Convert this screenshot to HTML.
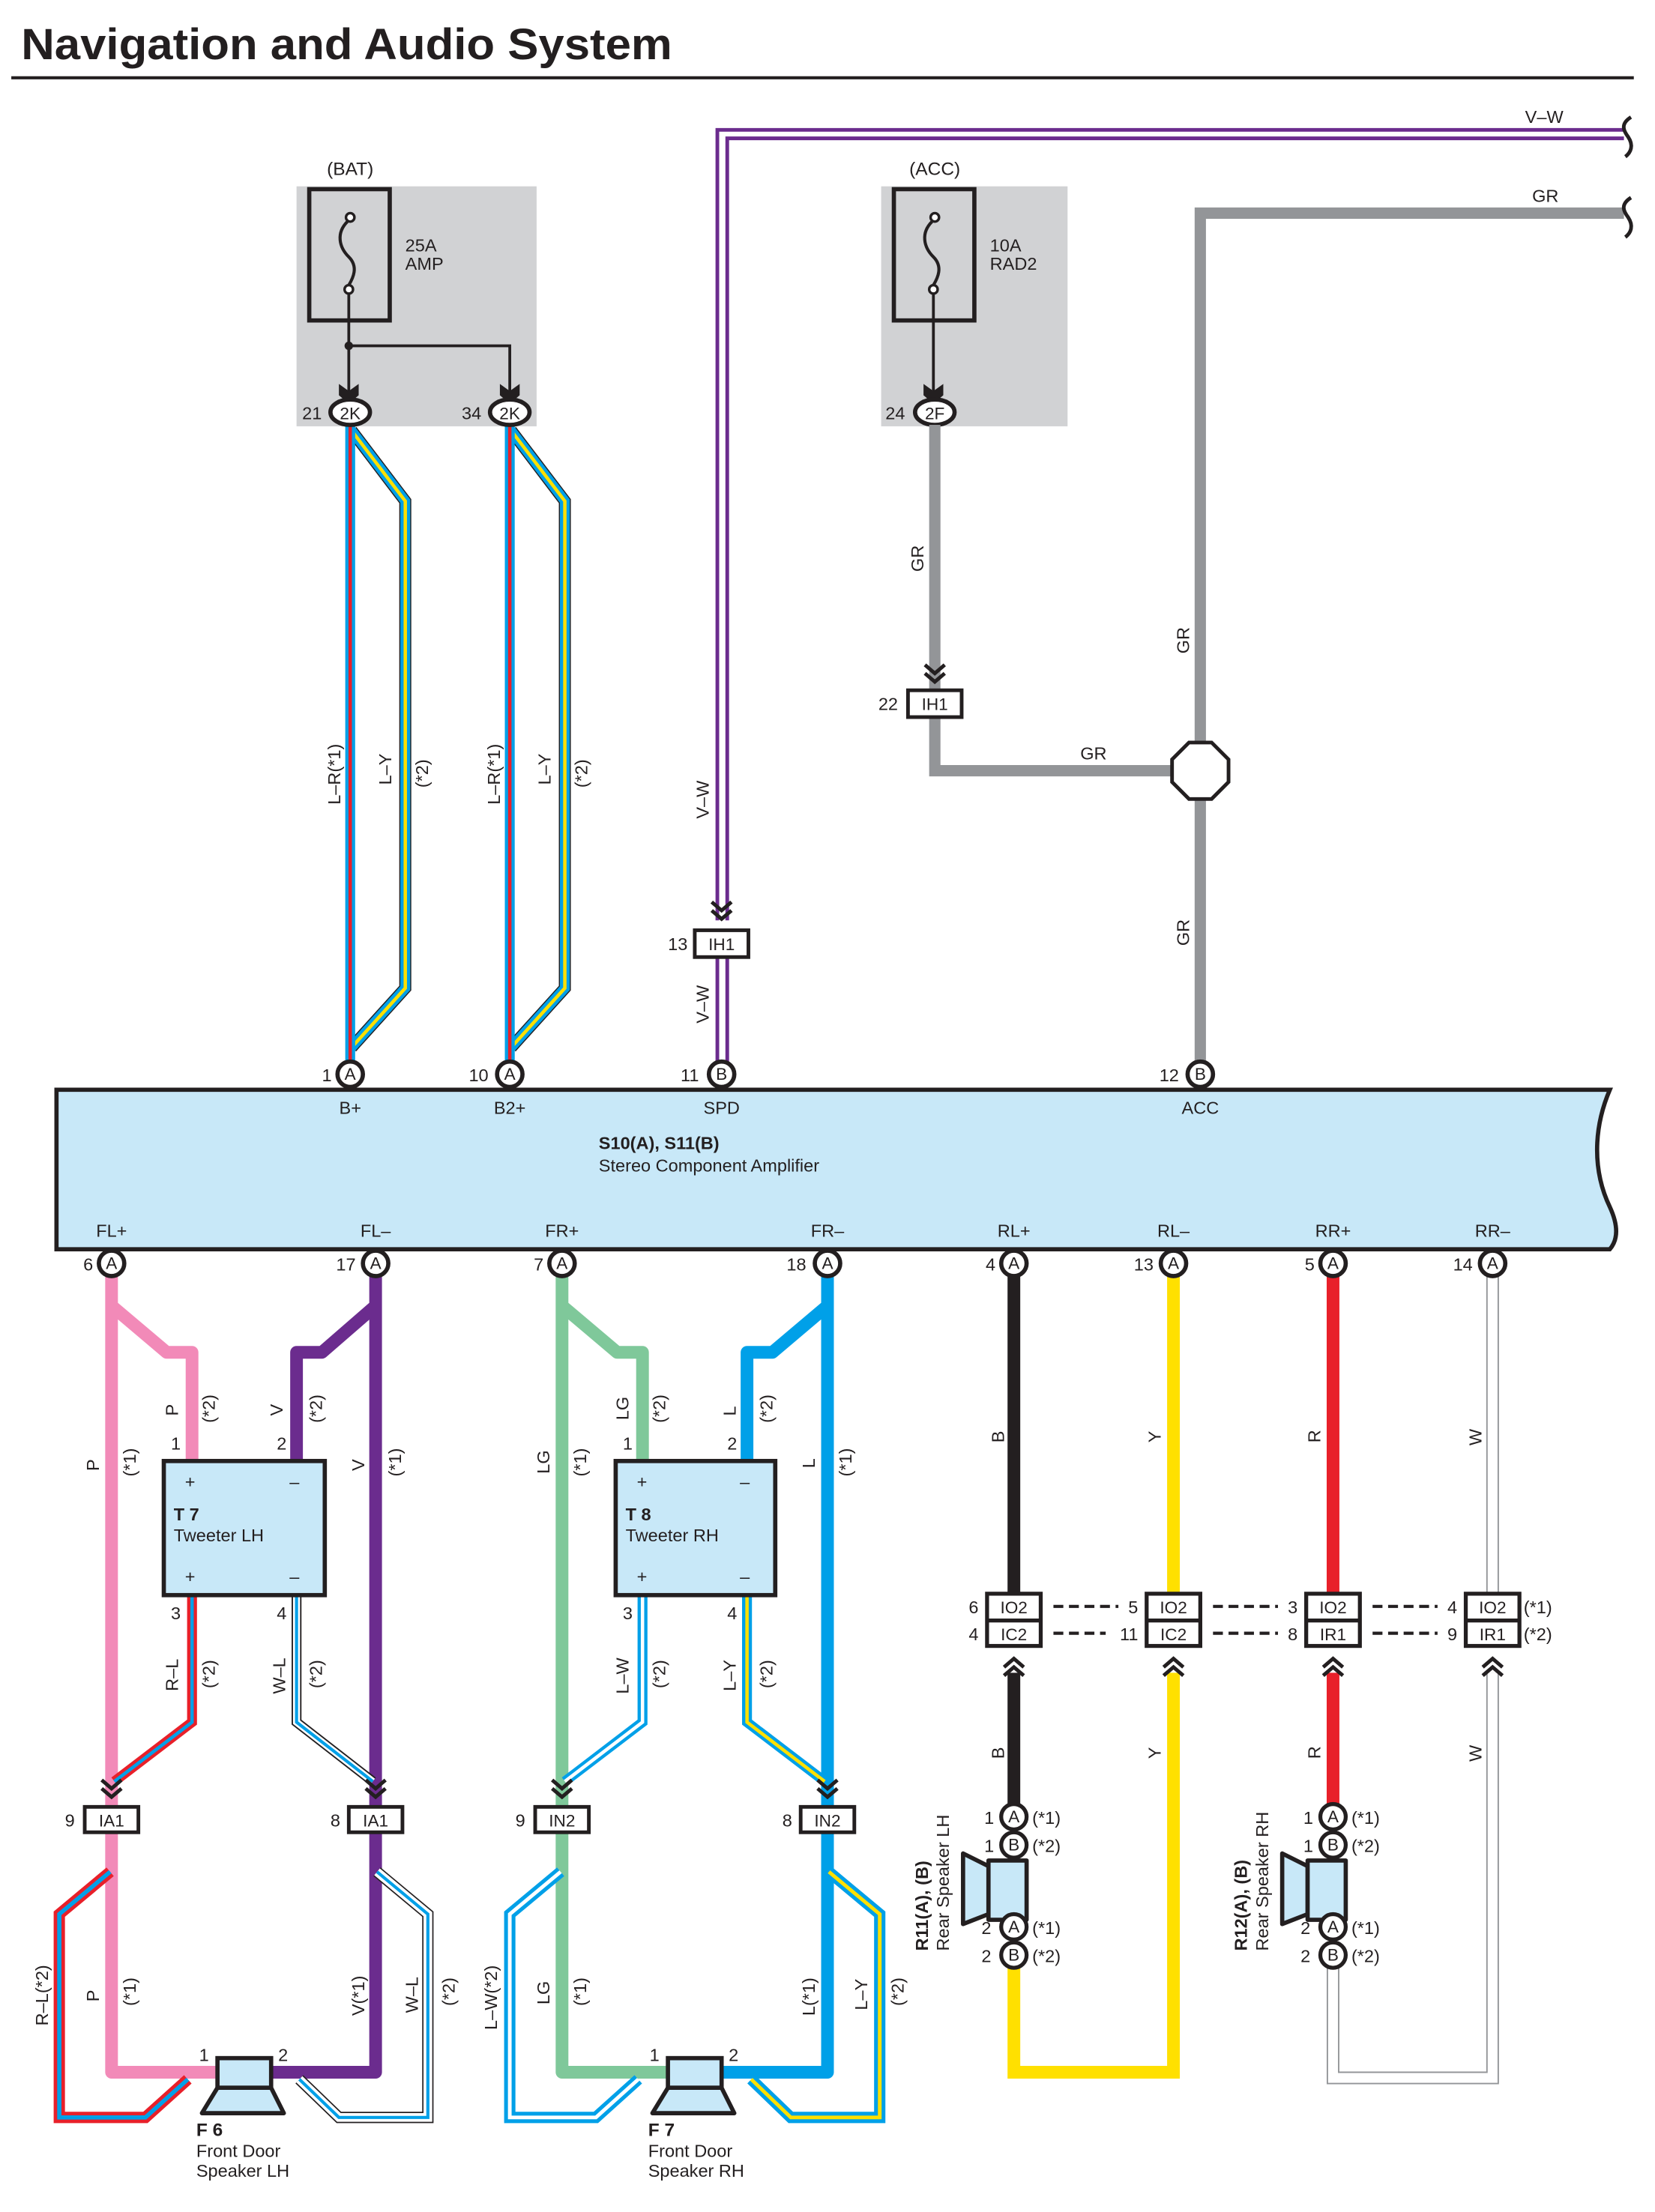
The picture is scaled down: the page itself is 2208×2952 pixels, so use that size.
<!DOCTYPE html>
<html><head><meta charset="utf-8"><style>
html,body{margin:0;padding:0;background:#fff}
svg{display:block}
text{font-family:"Liberation Sans",Arial,sans-serif;fill:#231f20}
.t{font-size:12.5px}
.c{font-size:12px;text-anchor:middle}
.b{font-weight:bold}
</style></head><body>
<svg width="2208" height="2952" viewBox="0 0 1172 1567" preserveAspectRatio="none" xmlns="http://www.w3.org/2000/svg">
<defs>
<path id="chd" d="M-7,-9 L0,-3 L7,-9 M-7,-3 L0,3 L7,-3" fill="none" stroke="#231f20" stroke-width="2.6"/>
<path id="chu" d="M-7,9 L0,3 L7,9 M-7,3 L0,-3 L7,3" fill="none" stroke="#231f20" stroke-width="2.6"/>
<path id="fah" d="M-7,-10 L0,-5 L7,-10 L7,-2 L0,4 L-7,-2 Z" fill="#231f20"/>
</defs>

<!-- Title -->
<text x="15" y="42" style="font-size:31px;font-weight:bold" textLength="461" lengthAdjust="spacingAndGlyphs">Navigation and Audio System</text>
<rect x="8" y="54" width="1149" height="2.2" fill="#231f20"/>

<!-- BAT box -->
<rect x="210" y="132" width="170" height="170" fill="#d1d2d4"/>
<text x="248" y="124" class="c" style="font-size:13px">(BAT)</text>
<rect x="219" y="134" width="57" height="93" fill="none" stroke="#231f20" stroke-width="3"/>
<circle cx="248" cy="154" r="3" fill="#fff" stroke="#231f20" stroke-width="1.8"/>
<circle cx="247" cy="205" r="3" fill="#fff" stroke="#231f20" stroke-width="1.8"/>
<path d="M246,157 C238,165 240,175 247,182 C254,189 250,197 247,202" fill="none" stroke="#231f20" stroke-width="2.2"/>
<text x="287" y="178" class="t">25A</text><text x="287" y="191" class="t">AMP</text>
<path d="M247,208 V280 M247,245 H361 V280" fill="none" stroke="#231f20" stroke-width="2"/>
<circle cx="247" cy="245" r="3" fill="#231f20"/>
<use href="#fah" x="247" y="282"/><use href="#fah" x="361" y="282"/>

<!-- ACC box -->
<rect x="624" y="132" width="132" height="170" fill="#d1d2d4"/>
<text x="662" y="124" class="c" style="font-size:13px">(ACC)</text>
<rect x="633" y="134" width="57" height="93" fill="none" stroke="#231f20" stroke-width="3"/>
<circle cx="662" cy="154" r="3" fill="#fff" stroke="#231f20" stroke-width="1.8"/>
<circle cx="661" cy="205" r="3" fill="#fff" stroke="#231f20" stroke-width="1.8"/>
<path d="M660,157 C652,165 654,175 661,182 C668,189 664,197 661,202" fill="none" stroke="#231f20" stroke-width="2.2"/>
<text x="701" y="178" class="t">10A</text><text x="701" y="191" class="t">RAD2</text>
<path d="M661,208 V280" fill="none" stroke="#231f20" stroke-width="2"/>
<use href="#fah" x="661" y="282"/>

<!-- B+ wires (L-R and L-Y) -->
<g fill="none" stroke-linejoin="miter">
<path d="M249,305 L287,355 V700 L249,742" stroke="#231f20" stroke-width="8.5"/>
<path d="M249,305 L287,355 V700 L249,742" stroke="#00a0e8" stroke-width="7"/>
<path d="M249,305 L287,355 V700 L249,742" stroke="#ffe000" stroke-width="2.4"/>
<path d="M248,300 V752" stroke="#00a0e8" stroke-width="7"/>
<path d="M248,300 V752" stroke="#e8202a" stroke-width="2.4"/>
<path d="M362,305 L400,355 V700 L362,742" stroke="#231f20" stroke-width="8.5"/>
<path d="M362,305 L400,355 V700 L362,742" stroke="#00a0e8" stroke-width="7"/>
<path d="M362,305 L400,355 V700 L362,742" stroke="#ffe000" stroke-width="2.4"/>
<path d="M361,300 V752" stroke="#00a0e8" stroke-width="7"/>
<path d="M361,300 V752" stroke="#e8202a" stroke-width="2.4"/>
</g>
<g class="t">
<text transform="translate(241,570) rotate(-90)">L–R(*1)</text>
<text transform="translate(277,556) rotate(-90)">L–Y</text>
<text transform="translate(303,558) rotate(-90)">(*2)</text>
<text transform="translate(354,570) rotate(-90)">L–R(*1)</text>
<text transform="translate(390,556) rotate(-90)">L–Y</text>
<text transform="translate(416,558) rotate(-90)">(*2)</text>
</g>
<g stroke="#231f20" stroke-width="3" fill="#fff">
<ellipse cx="248" cy="292" rx="14" ry="9"/><ellipse cx="361" cy="292" rx="14" ry="9"/><ellipse cx="662" cy="292" rx="14" ry="9"/>
</g>
<text x="248" y="297" class="c">2K</text><text x="361" y="297" class="c">2K</text><text x="662" y="297" class="c">2F</text>
<text x="214" y="297" class="t">21</text><text x="327" y="297" class="t">34</text><text x="627" y="297" class="t">24</text>

<!-- GR wires -->
<g fill="none" stroke="#939598" stroke-width="8">
<path d="M662,301 V488"/>
<path d="M662,508 V546 H830"/>
<path d="M850,752 V151 H1150"/>
</g>
<use href="#chd" x="662" y="480"/>
<rect x="643" y="489" width="38" height="19" fill="#fff" stroke="#231f20" stroke-width="2.6"/>
<text x="662" y="503" class="c">IH1</text><text x="622" y="503" class="t">22</text>
<polygon points="842,526 858,526 870,538 870,554 858,566 842,566 830,554 830,538" fill="#fff" stroke="#231f20" stroke-width="2.6"/>
<text transform="translate(654,405) rotate(-90)" class="t">GR</text>
<text x="765" y="538" class="t">GR</text>
<text transform="translate(842,463) rotate(-90)" class="t">GR</text>
<text transform="translate(842,670) rotate(-90)" class="t">GR</text>
<text x="1085" y="143" class="t">GR</text>

<!-- V-W -->
<g fill="none" stroke="#6b2c8e" stroke-width="2.6">
<path d="M1150,92 H508 V652"/>
<path d="M1150,98 H515 V652"/>
<path d="M508,678 V752"/><path d="M515,678 V752"/>
</g>
<use href="#chd" x="511" y="648"/>
<rect x="492" y="659" width="38" height="19" fill="#fff" stroke="#231f20" stroke-width="2.6"/>
<text x="511" y="673" class="c">IH1</text><text x="473" y="673" class="t">13</text>
<text transform="translate(502,580) rotate(-90)" class="t">V–W</text>
<text transform="translate(502,725) rotate(-90)" class="t">V–W</text>
<text x="1080" y="87" class="t">V–W</text>
<g fill="none" stroke="#231f20" stroke-width="2.6">
<path d="M1155,83 C1147,88 1150,93 1153,97 C1157,103 1155,108 1151,111"/>
<path d="M1155,140 C1147,145 1150,150 1153,154 C1157,160 1155,165 1151,168"/>
</g>

<!-- Amplifier -->
<path d="M40,772 H1140 C1128,800 1128,830 1140,855 C1146,868 1146,878 1140,885 H40 Z" fill="#c8e8f8" stroke="#231f20" stroke-width="3"/>
<g class="c" style="font-size:12.5px">
<text x="248" y="789">B+</text><text x="361" y="789">B2+</text><text x="511" y="789">SPD</text><text x="850" y="789">ACC</text>
<text x="79" y="876">FL+</text><text x="266" y="876">FL–</text><text x="398" y="876">FR+</text><text x="586" y="876">FR–</text>
<text x="718" y="876">RL+</text><text x="831" y="876">RL–</text><text x="944" y="876">RR+</text><text x="1057" y="876">RR–</text>
</g>
<text x="424" y="814" class="t b">S10(A), S11(B)</text>
<text x="424" y="830" class="t">Stereo Component Amplifier</text>

<!-- ========== FRONT LEFT ========== -->
<g fill="none" stroke-linejoin="round">
<path d="M79,903 V1280 M79,925 L118,958 H136 V1035" stroke="#f28ab8" stroke-width="9"/>
<path d="M266,903 V1280 M266,925 L228,958 H210 V1035" stroke="#6b2c8e" stroke-width="9"/>
<path d="M136,1130 V1220 L81,1262" stroke="#e8202a" stroke-width="7" stroke-linejoin="miter"/>
<path d="M136,1130 V1220 L81,1262" stroke="#00a0e8" stroke-width="2.4" stroke-linejoin="miter"/>
<path d="M210,1130 V1220 L264,1262" stroke="#231f20" stroke-width="7" stroke-linejoin="miter"/>
<path d="M210,1130 V1220 L264,1262" stroke="#fff" stroke-width="5" stroke-linejoin="miter"/>
<path d="M210,1130 V1220 L264,1262" stroke="#00a0e8" stroke-width="2.2" stroke-linejoin="miter"/>
<path d="M79,1298 V1468 H153" stroke="#f28ab8" stroke-width="9"/>
<path d="M266,1298 V1468 H192" stroke="#6b2c8e" stroke-width="9"/>
<path d="M78,1326 L42,1356 V1500 H103 L133,1473" stroke="#e8202a" stroke-width="8" stroke-linejoin="miter"/>
<path d="M78,1326 L42,1356 V1500 H103 L133,1473" stroke="#00a0e8" stroke-width="3" stroke-linejoin="miter"/>
<path d="M267,1326 L303,1356 V1500 H240 L212,1473" stroke="#231f20" stroke-width="8" stroke-linejoin="miter"/>
<path d="M267,1326 L303,1356 V1500 H240 L212,1473" stroke="#fff" stroke-width="6.2" stroke-linejoin="miter"/>
<path d="M267,1326 L303,1356 V1500 H240 L212,1473" stroke="#00a0e8" stroke-width="2.2" stroke-linejoin="miter"/>
</g>
<rect x="116" y="1035" width="114" height="95" fill="#c8e8f8" stroke="#231f20" stroke-width="3"/>
<g class="t">
<text x="131" y="1054">+</text><text x="205" y="1054">–</text><text x="131" y="1121">+</text><text x="205" y="1121">–</text>
<text x="123" y="1077" class="b">T 7</text><text x="123" y="1092">Tweeter LH</text>
<text x="121" y="1027">1</text><text x="196" y="1027">2</text><text x="121" y="1147">3</text><text x="196" y="1147">4</text>
<text transform="translate(126,1003) rotate(-90)">P</text><text transform="translate(152,1008) rotate(-90)">(*2)</text>
<text transform="translate(200,1003) rotate(-90)">V</text><text transform="translate(228,1008) rotate(-90)">(*2)</text>
<text transform="translate(70,1042) rotate(-90)">P</text><text transform="translate(96,1046) rotate(-90)">(*1)</text>
<text transform="translate(258,1042) rotate(-90)">V</text><text transform="translate(284,1046) rotate(-90)">(*1)</text>
<text transform="translate(126,1198) rotate(-90)">R–L</text><text transform="translate(152,1196) rotate(-90)">(*2)</text>
<text transform="translate(202,1200) rotate(-90)">W–L</text><text transform="translate(228,1196) rotate(-90)">(*2)</text>
<text transform="translate(34,1435) rotate(-90)">R–L(*2)</text>
<text transform="translate(70,1418) rotate(-90)">P</text><text transform="translate(96,1421) rotate(-90)">(*1)</text>
<text transform="translate(258,1428) rotate(-90)">V(*1)</text>
<text transform="translate(296,1426) rotate(-90)">W–L</text><text transform="translate(322,1421) rotate(-90)">(*2)</text>
<text x="141" y="1460">1</text><text x="197" y="1460">2</text>
<text x="139" y="1513" class="b" style="font-size:13px">F 6</text>
<text x="139" y="1528">Front Door</text><text x="139" y="1542">Speaker LH</text>
</g>
<use href="#chd" x="79" y="1270"/><use href="#chd" x="266" y="1270"/>
<rect x="60" y="1280" width="38" height="18" fill="#fff" stroke="#231f20" stroke-width="2.6"/>
<rect x="247" y="1280" width="38" height="18" fill="#fff" stroke="#231f20" stroke-width="2.6"/>
<text x="79" y="1294" class="c">IA1</text><text x="266" y="1294" class="c">IA1</text>
<text x="46" y="1294" class="t">9</text><text x="234" y="1294" class="t">8</text>
<rect x="154" y="1458" width="38" height="21" fill="#c8e8f8" stroke="#231f20" stroke-width="3"/>
<polygon points="154,1479 192,1479 201,1497 143,1497" fill="#c8e8f8" stroke="#231f20" stroke-width="3" stroke-linejoin="round"/>

<!-- ========== FRONT RIGHT ========== -->
<g fill="none" stroke-linejoin="round">
<path d="M398,903 V1280 M398,925 L437,958 H455 V1035" stroke="#7fc89a" stroke-width="9"/>
<path d="M586,903 V1280 M586,925 L547,958 H529 V1035" stroke="#00a0e8" stroke-width="9"/>
<path d="M455,1130 V1220 L400,1262" stroke="#00a0e8" stroke-width="7" stroke-linejoin="miter"/>
<path d="M455,1130 V1220 L400,1262" stroke="#fff" stroke-width="2.4" stroke-linejoin="miter"/>
<path d="M529,1130 V1220 L584,1262" stroke="#00a0e8" stroke-width="7" stroke-linejoin="miter"/>
<path d="M529,1130 V1220 L584,1262" stroke="#ffe000" stroke-width="2.4" stroke-linejoin="miter"/>
<path d="M398,1298 V1468 H472" stroke="#7fc89a" stroke-width="9"/>
<path d="M586,1298 V1468 H511" stroke="#00a0e8" stroke-width="9"/>
<path d="M397,1326 L361,1356 V1500 H422 L452,1473" stroke="#00a0e8" stroke-width="8" stroke-linejoin="miter"/>
<path d="M397,1326 L361,1356 V1500 H422 L452,1473" stroke="#fff" stroke-width="2.6" stroke-linejoin="miter"/>
<path d="M587,1326 L623,1356 V1500 H560 L532,1473" stroke="#00a0e8" stroke-width="8" stroke-linejoin="miter"/>
<path d="M587,1326 L623,1356 V1500 H560 L532,1473" stroke="#ffe000" stroke-width="2.6" stroke-linejoin="miter"/>
</g>
<rect x="436" y="1035" width="113" height="95" fill="#c8e8f8" stroke="#231f20" stroke-width="3"/>
<g class="t">
<text x="451" y="1054">+</text><text x="524" y="1054">–</text><text x="451" y="1121">+</text><text x="524" y="1121">–</text>
<text x="443" y="1077" class="b">T 8</text><text x="443" y="1092">Tweeter RH</text>
<text x="441" y="1027">1</text><text x="515" y="1027">2</text><text x="441" y="1147">3</text><text x="515" y="1147">4</text>
<text transform="translate(445,1006) rotate(-90)">LG</text><text transform="translate(471,1008) rotate(-90)">(*2)</text>
<text transform="translate(521,1003) rotate(-90)">L</text><text transform="translate(547,1008) rotate(-90)">(*2)</text>
<text transform="translate(389,1044) rotate(-90)">LG</text><text transform="translate(415,1046) rotate(-90)">(*1)</text>
<text transform="translate(577,1040) rotate(-90)">L</text><text transform="translate(603,1046) rotate(-90)">(*1)</text>
<text transform="translate(445,1200) rotate(-90)">L–W</text><text transform="translate(471,1196) rotate(-90)">(*2)</text>
<text transform="translate(521,1198) rotate(-90)">L–Y</text><text transform="translate(547,1196) rotate(-90)">(*2)</text>
<text transform="translate(352,1438) rotate(-90)">L–W(*2)</text>
<text transform="translate(389,1420) rotate(-90)">LG</text><text transform="translate(415,1421) rotate(-90)">(*1)</text>
<text transform="translate(577,1428) rotate(-90)">L(*1)</text>
<text transform="translate(614,1424) rotate(-90)">L–Y</text><text transform="translate(640,1421) rotate(-90)">(*2)</text>
<text x="460" y="1460">1</text><text x="516" y="1460">2</text>
<text x="459" y="1513" class="b" style="font-size:13px">F 7</text>
<text x="459" y="1528">Front Door</text><text x="459" y="1542">Speaker RH</text>
</g>
<use href="#chd" x="398" y="1270"/><use href="#chd" x="586" y="1270"/>
<rect x="379" y="1280" width="38" height="18" fill="#fff" stroke="#231f20" stroke-width="2.6"/>
<rect x="567" y="1280" width="38" height="18" fill="#fff" stroke="#231f20" stroke-width="2.6"/>
<text x="398" y="1294" class="c">IN2</text><text x="586" y="1294" class="c">IN2</text>
<text x="365" y="1294" class="t">9</text><text x="554" y="1294" class="t">8</text>
<rect x="473" y="1458" width="38" height="21" fill="#c8e8f8" stroke="#231f20" stroke-width="3"/>
<polygon points="473,1479 511,1479 520,1497 462,1497" fill="#c8e8f8" stroke="#231f20" stroke-width="3" stroke-linejoin="round"/>

<!-- ========== REAR ========== -->
<g fill="none">
<path d="M718,903 V1129 M718,1185 V1280" stroke="#231f20" stroke-width="9"/>
<path d="M831,903 V1129 M831,1185 V1468 H718 V1394" stroke="#ffe000" stroke-width="9"/>
<path d="M944,903 V1129 M944,1185 V1280" stroke="#e8202a" stroke-width="9"/>
<path d="M1057,903 V1129 M1057,1185 V1472 H944 V1394" stroke="#939598" stroke-width="9"/>
<path d="M1057,903 V1129 M1057,1185 V1472 H944 V1394" stroke="#fff" stroke-width="7"/>
</g>
<g fill="none" stroke="#231f20" stroke-width="2.2" stroke-dasharray="7,4">
<path d="M746,1138 H792"/><path d="M746,1157 H783"/>
<path d="M859,1138 H905"/><path d="M859,1157 H905"/>
<path d="M972,1138 H1018"/><path d="M972,1157 H1018"/>
</g>
<g fill="#fff" stroke="#231f20" stroke-width="2.8">
<rect x="699" y="1129" width="38" height="37"/><rect x="812" y="1129" width="38" height="37"/>
<rect x="925" y="1129" width="38" height="37"/><rect x="1038" y="1129" width="38" height="37"/>
</g>
<g stroke="#231f20" stroke-width="2.8">
<path d="M699,1148 H737 M812,1148 H850 M925,1148 H963 M1038,1148 H1076"/>
</g>
<g class="c">
<text x="718" y="1143">IO2</text><text x="718" y="1162">IC2</text>
<text x="831" y="1143">IO2</text><text x="831" y="1162">IC2</text>
<text x="944" y="1143">IO2</text><text x="944" y="1162">IR1</text>
<text x="1057" y="1143">IO2</text><text x="1057" y="1162">IR1</text>
</g>
<g class="t">
<text x="686" y="1143">6</text><text x="686" y="1162">4</text>
<text x="799" y="1143">5</text><text x="793" y="1162">11</text>
<text x="912" y="1143">3</text><text x="912" y="1162">8</text>
<text x="1025" y="1143">4</text><text x="1025" y="1162">9</text>
<text x="1079" y="1143">(*1)</text><text x="1079" y="1162">(*2)</text>
<text transform="translate(711,1022) rotate(-90)">B</text><text transform="translate(822,1022) rotate(-90)">Y</text>
<text transform="translate(935,1022) rotate(-90)">R</text><text transform="translate(1049,1024) rotate(-90)">W</text>
<text transform="translate(711,1246) rotate(-90)">B</text><text transform="translate(822,1246) rotate(-90)">Y</text>
<text transform="translate(935,1246) rotate(-90)">R</text><text transform="translate(1049,1248) rotate(-90)">W</text>
</g>
<use href="#chu" x="718" y="1178"/><use href="#chu" x="831" y="1178"/><use href="#chu" x="944" y="1178"/><use href="#chu" x="1057" y="1178"/>

<g stroke="#231f20" stroke-width="3" fill="#c8e8f8" stroke-linejoin="round">
<polygon points="700,1322 682,1313 682,1363 700,1356"/>
<rect x="700" y="1318" width="27" height="42"/>
<polygon points="926,1322 908,1313 908,1363 926,1356"/>
<rect x="926" y="1318" width="27" height="42"/>
</g>
<g stroke="#231f20" stroke-width="2.8" fill="#fff">
<circle cx="718" cy="1287" r="9"/><circle cx="718" cy="1307" r="9"/><circle cx="718" cy="1365" r="9"/><circle cx="718" cy="1385" r="9"/>
<circle cx="944" cy="1287" r="9"/><circle cx="944" cy="1307" r="9"/><circle cx="944" cy="1365" r="9"/><circle cx="944" cy="1385" r="9"/>
</g>
<g class="c">
<text x="718" y="1291">A</text><text x="718" y="1311">B</text><text x="718" y="1369">A</text><text x="718" y="1389">B</text>
<text x="944" y="1291">A</text><text x="944" y="1311">B</text><text x="944" y="1369">A</text><text x="944" y="1389">B</text>
</g>
<g class="t">
<text x="697" y="1292">1</text><text x="697" y="1312">1</text><text x="695" y="1370">2</text><text x="695" y="1390">2</text>
<text x="731" y="1292">(*1)</text><text x="731" y="1312">(*2)</text><text x="731" y="1370">(*1)</text><text x="731" y="1390">(*2)</text>
<text x="923" y="1292">1</text><text x="923" y="1312">1</text><text x="921" y="1370">2</text><text x="921" y="1390">2</text>
<text x="957" y="1292">(*1)</text><text x="957" y="1312">(*2)</text><text x="957" y="1370">(*1)</text><text x="957" y="1390">(*2)</text>
<text transform="translate(657,1382) rotate(-90)" class="b">R11(A), (B)</text>
<text transform="translate(672,1382) rotate(-90)">Rear Speaker LH</text>
<text transform="translate(883,1382) rotate(-90)" class="b">R12(A), (B)</text>
<text transform="translate(898,1382) rotate(-90)">Rear Speaker RH</text>
</g>

<g stroke="#231f20" stroke-width="3" fill="#fff">
<circle cx="248" cy="761" r="9"/><circle cx="361" cy="761" r="9"/><circle cx="511" cy="761" r="9"/><circle cx="850" cy="761" r="9"/>
<circle cx="79" cy="895" r="9"/><circle cx="266" cy="895" r="9"/><circle cx="398" cy="895" r="9"/><circle cx="586" cy="895" r="9"/>
<circle cx="718" cy="895" r="9"/><circle cx="831" cy="895" r="9"/><circle cx="944" cy="895" r="9"/><circle cx="1057" cy="895" r="9"/>
</g>
<g class="c">
<text x="248" y="765">A</text><text x="361" y="765">A</text><text x="511" y="765">B</text><text x="850" y="765">B</text>
<text x="79" y="899">A</text><text x="266" y="899">A</text><text x="398" y="899">A</text><text x="586" y="899">A</text>
<text x="718" y="899">A</text><text x="831" y="899">A</text><text x="944" y="899">A</text><text x="1057" y="899">A</text>
</g>
<g class="t">
<text x="228" y="766">1</text><text x="332" y="766">10</text><text x="482" y="766">11</text><text x="821" y="766">12</text>
<text x="59" y="900">6</text><text x="238" y="900">17</text><text x="378" y="900">7</text><text x="557" y="900">18</text>
<text x="698" y="900">4</text><text x="803" y="900">13</text><text x="924" y="900">5</text><text x="1029" y="900">14</text>
</g>
</svg>
</body></html>
